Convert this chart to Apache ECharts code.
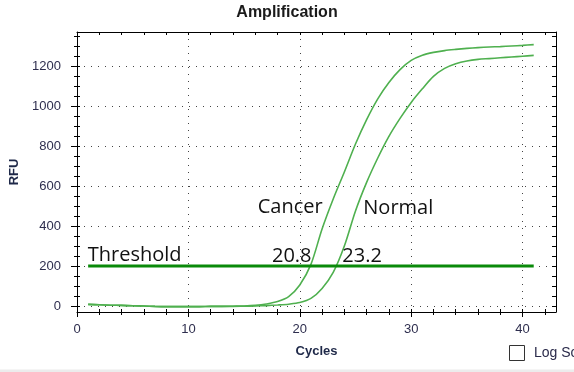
<!DOCTYPE html>
<html><head><meta charset="utf-8">
<script src="https://cdn.jsdelivr.net/npm/echarts@6/dist/echarts.min.js"></script>
<style>html,body{margin:0;padding:0;background:#fff;overflow:hidden}#c{width:574px;height:372px;}</style>
</head><body><div id="c"></div>
<script>
// ---- data ----
const cycles = [1,2,3,4,5,6,7,8,9,10,11,12,13,14,15,16,17,18,19,20,21,22,23,24,25,26,27,28,29,30,31,32,33,34,35,36,37,38,39,40,41];
const cancerRFU = [8,6,4,3,1,0,-2,-3,-3,-3,-3,-2,-2,-1,0,3,10,22,47,105,208,385,535,670,810,932,1036,1118,1182,1228,1254,1268,1277,1283,1288,1292,1295,1297,1300,1303,1307];
const normalRFU = [8,6,4,3,1,0,-2,-3,-3,-3,-3,-2,-2,-2,-1,0,2,5,9,17,38,88,168,300,475,618,740,848,938,1018,1086,1148,1188,1211,1225,1233,1237,1241,1245,1249,1253];
const thresholdRFU = 200;
const thresholdCycles = [1, 41];
const xTickLabels = [0,10,20,30,40];
const yTickLabels = [0,200,400,600,800,1000,1200];
const annotationTexts = ['Cancer','Normal','Threshold','20.8','23.2'];
const annotationCycles = [16.22, 25.70, 0.96, 17.5, 23.82];
const annotationRFU = [492, 489, 252, 250, 250];

// ---- ticks ----
const xMin = 0, xMax = 43, yMin = -30, yMax = 1370;
const xAll = [], xMinor = [];
for (let v = 0; v <= 42; v += 2) { xAll.push(v); if (v % 10) xMinor.push(v); }
const yAll = [], yMinor = [];
for (let v = 0; v <= 1350; v += 50) { yAll.push(v); if (v % 200) yMinor.push(v); }

const FONT = 'Liberation Sans, Arial, sans-serif';
const labelColor = '#2e2e4e';
const black = {color:'#000', width:1};
const dotted = {type:[1,6], color:'#444', width:1};

function blankAxis(pos, vals, inside, len, line) {
  const isX = pos === 'bottom' || pos === 'top';
  return {
    type:'value', position:pos, min: isX ? xMin : yMin, max: isX ? xMax : yMax,
    axisLine:{show:!!line, onZero:false, lineStyle:black},
    axisTick:{show:true, inside:inside, length:len, customValues:vals, lineStyle:black},
    axisLabel:{show:false}, splitLine:{show:false}, minorTick:{show:false}
  };
}

const chart = echarts.init(document.getElementById('c'), null, {renderer:'canvas'});
chart.setOption({
  animation:false,
  backgroundColor:'#fff',
  title:{text:'Amplification', left:'center', top:0,
    textStyle:{fontFamily:FONT, fontSize:16, fontWeight:'bold', color:'#1a1a1a'}},
  grid:{left:75, right:18, top:32, bottom:60, containLabel:false},
  xAxis:[
    {type:'value', position:'bottom', min:xMin, max:xMax,
      axisLine:{show:true, onZero:false, lineStyle:black},
      axisTick:{show:true, inside:false, length:5, customValues:xTickLabels, lineStyle:black},
      axisLabel:{customValues:xTickLabels, margin:11, fontFamily:FONT, fontSize:13, color:labelColor,
        formatter:v=>String(v)},
      splitLine:{show:true, lineStyle:dotted},
      name:'Cycles', nameLocation:'middle', nameGap:33,
      nameTextStyle:{fontFamily:FONT, fontSize:13, fontWeight:'bold', color:'#1e2848'}},
    blankAxis('bottom', xMinor, false, 3, false),
    blankAxis('bottom', xAll, true, 3, false),
    blankAxis('top', xAll, true, 3, true)
  ],
  yAxis:[
    {type:'value', position:'left', min:yMin, max:yMax,
      axisLine:{show:true, onZero:false, lineStyle:black},
      axisTick:{show:true, inside:false, length:6, customValues:yTickLabels, lineStyle:black},
      axisLabel:{customValues:yTickLabels, margin:16, fontFamily:FONT, fontSize:13, color:labelColor,
        formatter:v=>String(v)},
      splitLine:{show:true, lineStyle:dotted},
      name:'RFU', nameLocation:'middle', nameGap:56, nameRotate:90,
      nameTextStyle:{fontFamily:FONT, fontSize:13, fontWeight:'bold', color:'#1e2848'}},
    blankAxis('left', yMinor, false, 3, false),
    blankAxis('left', yAll, true, 3, false),
    blankAxis('right', yAll, true, 4, true)
  ],
  series:[
    {name:'Cancer', type:'line', xAxisIndex:0, yAxisIndex:0, showSymbol:false, symbol:'none',
      smooth:0.3,
      lineStyle:{color:'#4fb04f', width:1.6},
      data: cycles.map((c,i)=>[c, cancerRFU[i]])},
    {name:'Normal', type:'line', xAxisIndex:0, yAxisIndex:0, showSymbol:false, symbol:'none',
      smooth:0.3,
      lineStyle:{color:'#4fb04f', width:1.6},
      data: cycles.map((c,i)=>[c, normalRFU[i]])},
    {name:'Threshold', type:'line', xAxisIndex:0, yAxisIndex:0, showSymbol:false, symbol:'none',
      lineStyle:{color:'#0a8a0a', width:3},
      data: thresholdCycles.map(c=>[c, thresholdRFU]),
      markPoint:{symbol:'circle', symbolSize:0, silent:true,
        label:{show:true, position:'right', distance:0, color:'#111',
          fontFamily:'Open Sans, sans-serif', fontSize:20,
          formatter:p=>p.name},
        data: annotationTexts.map((t,i)=>({name:t, coord:[annotationCycles[i], annotationRFU[i]]}))}
    }
  ],
  graphic:[
    {type:'rect', shape:{x:509.5, y:345.5, width:15, height:15},
      style:{fill:'#fff', stroke:'#333', lineWidth:1}},
    {type:'text', x:534, y:346, style:{text:'Log Sc', font:'14px '+FONT, fill:'#2a2a4a'}},
    {type:'rect', shape:{x:0, y:369.5, width:574, height:3}, style:{fill:'#ececec'}}
  ]
});
</script></body></html>
